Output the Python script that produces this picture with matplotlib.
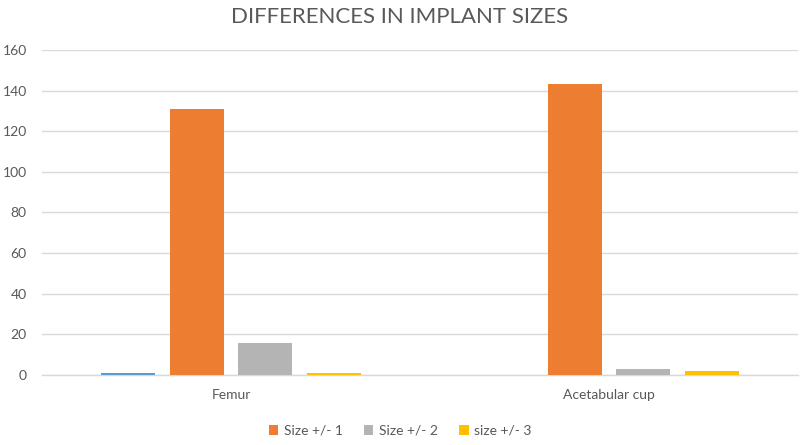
import matplotlib
matplotlib.use('Agg')
import matplotlib.pyplot as plt
import numpy as np

categories = ['Femur', 'Acetabular cup']
size_0 = [1, 0]        # blue series, not shown in legend
size_1 = [131, 143]
size_2 = [16, 3]
size_3 = [1, 2]

series = [
    (size_0, '#5B9BD5', '_nolegend_'),
    (size_1, '#ED7D31', 'Size +/- 1'),
    (size_2, '#B4B4B4', 'Size +/- 2'),
    (size_3, '#FFC000', 'size +/- 3'),
]

plt.rcParams['font.family'] = ['Lato', 'DejaVu Sans']
text_color = '#595959'

fig = plt.figure(figsize=(8, 4.45), dpi=100)
ax = fig.add_axes([0.0525, 0.157, 0.945, 0.731])

x = np.arange(len(categories))
width = 0.143
step = 0.181
offsets = (np.arange(len(series)) - 1.5) * step

for (vals, color, label), off in zip(series, offsets):
    ax.bar(x + off, vals, width, color=color, label=label, zorder=3)

ax.set_xlim(-0.5, 1.5)
ax.set_ylim(0, 160)
ax.set_yticks(range(0, 161, 20))
ax.set_xticks(x)
ax.set_xticklabels(categories)

ax.grid(axis='y', color='#D9D9D9', linewidth=1, zorder=0)
for s in ['top', 'right', 'left']:
    ax.spines[s].set_visible(False)
ax.spines['bottom'].set_color('#D9D9D9')
ax.spines['bottom'].set_linewidth(1)
ax.tick_params(axis='both', length=0, colors=text_color, labelsize=10)
ax.tick_params(axis='y', pad=11)
ax.tick_params(axis='x', pad=10)

fig.suptitle('DIFFERENCES IN IMPLANT SIZES', y=0.985, fontsize=16, color=text_color)

leg = fig.legend(loc='lower center', bbox_to_anchor=(0.5, -0.01), ncol=3, frameon=False,
                 fontsize=10, handlelength=0.7, handleheight=0.7, columnspacing=1.5,
                 handletextpad=0.4)
for t in leg.get_texts():
    t.set_color(text_color)

fig.savefig('out.png', dpi=100)
